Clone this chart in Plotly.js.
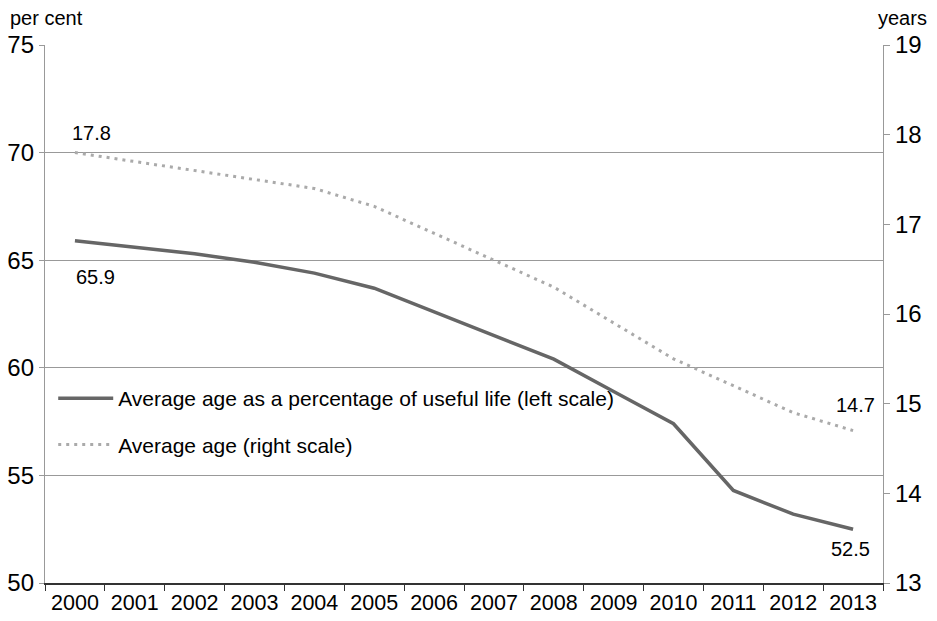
<!DOCTYPE html>
<html>
<head>
<meta charset="utf-8">
<script src="https://cdn.plot.ly/plotly-3.0.1.min.js"></script>
<style>html,body{margin:0;padding:0;background:#fff;}#chart{width:937px;height:621px;}</style>
</head>
<body>
<div id="chart"></div>
<script>
const years = ['2000','2001','2002','2003','2004','2005','2006','2007','2008','2009','2010','2011','2012','2013'];
const pctUsefulLife = [65.9, 65.6, 65.3, 64.9, 64.4, 63.7, 62.6, 61.5, 60.4, 58.9, 57.4, 54.3, 53.2, 52.5];
const avgAge = [17.8, 17.7, 17.6, 17.5, 17.4, 17.2, 16.9, 16.6, 16.3, 15.9, 15.5, 15.2, 14.9, 14.7];
const leftTicks = [50, 55, 60, 65, 70, 75];
const rightTicks = [13, 14, 15, 16, 17, 18, 19];
const seriesNames = ['Average age as a percentage of useful life (left scale)', 'Average age (right scale)'];

const FONT = 'Liberation Sans, Arial, sans-serif';

const traces = [
  {x: years, y: pctUsefulLife, type: 'scatter', mode: 'lines', name: seriesNames[0],
   line: {color: '#666666', width: 3.5}, legendgroup: 'a', yaxis: 'y'},
  {x: years, y: avgAge, type: 'scatter', mode: 'lines', name: seriesNames[1],
   line: {color: '#aaaaaa', width: 3, dash: '3px,5px'}, legendgroup: 'b', yaxis: 'y2'}
];

const last = years.length - 1;
const layout = {
  width: 937, height: 621,
  margin: {l: 45, r: 54, t: 45, b: 38},
  paper_bgcolor: '#fff', plot_bgcolor: '#fff',
  font: {family: FONT, color: '#000'},
  showlegend: true,
  legend: {x: 0.0098, y: 0.381, xanchor: 'left', yanchor: 'top', font: {size: 21, color: '#000'},
           bgcolor: 'rgba(0,0,0,0)', traceorder: 'grouped', tracegroupgap: 16, itemwidth: 55},
  xaxis: {type: 'category', range: [-0.5, 13.5], tickson: 'boundaries', ticks: 'outside', ticklen: 6,
          tickcolor: '#333', linecolor: '#333', linewidth: 1.5, showline: true, showgrid: false,
          tickfont: {size: 21.5, color: '#000'}, fixedrange: true},
  yaxis: {range: [50, 75], tickvals: leftTicks, ticks: 'outside', ticklen: 5, tickcolor: '#999',
          showline: true, linecolor: '#999', linewidth: 1.2, showgrid: true, gridcolor: '#999', gridwidth: 1.2,
          zeroline: false, tickfont: {size: 24, color: '#000'}},
  yaxis2: {range: [13, 19], tickvals: rightTicks, overlaying: 'y', side: 'right', ticks: 'outside', ticklen: 6,
           tickcolor: '#999', showline: true, linecolor: '#999', linewidth: 1.2, showgrid: false,
           zeroline: false, tickfont: {size: 24, color: '#000'}},
  annotations: [
    {x: 0, y: avgAge[0], xref: 'x', yref: 'y2', text: String(avgAge[0]), showarrow: false, xshift: 17, yshift: 20, font: {size: 20}},
    {x: 0, y: pctUsefulLife[0], xref: 'x', yref: 'y', text: String(pctUsefulLife[0]), showarrow: false, xshift: 21, yshift: -36, font: {size: 20}},
    {x: last, y: avgAge[last], xref: 'x', yref: 'y2', text: String(avgAge[last]), showarrow: false, xshift: 2, yshift: 26, font: {size: 20}},
    {x: last, y: pctUsefulLife[last], xref: 'x', yref: 'y', text: String(pctUsefulLife[last]), showarrow: false, xshift: -3, yshift: -20, font: {size: 20}},
    {xref: 'paper', yref: 'paper', x: -0.0442, y: 1.05, xanchor: 'left', yanchor: 'middle', text: 'per cent', showarrow: false, font: {size: 20}},
    {xref: 'paper', yref: 'paper', x: 1.0549, y: 1.05, xanchor: 'right', yanchor: 'middle', text: 'years', showarrow: false, font: {size: 20}}
  ]
};

Plotly.newPlot('chart', traces, layout, {displayModeBar: false, staticPlot: true});
</script>
</body>
</html>
